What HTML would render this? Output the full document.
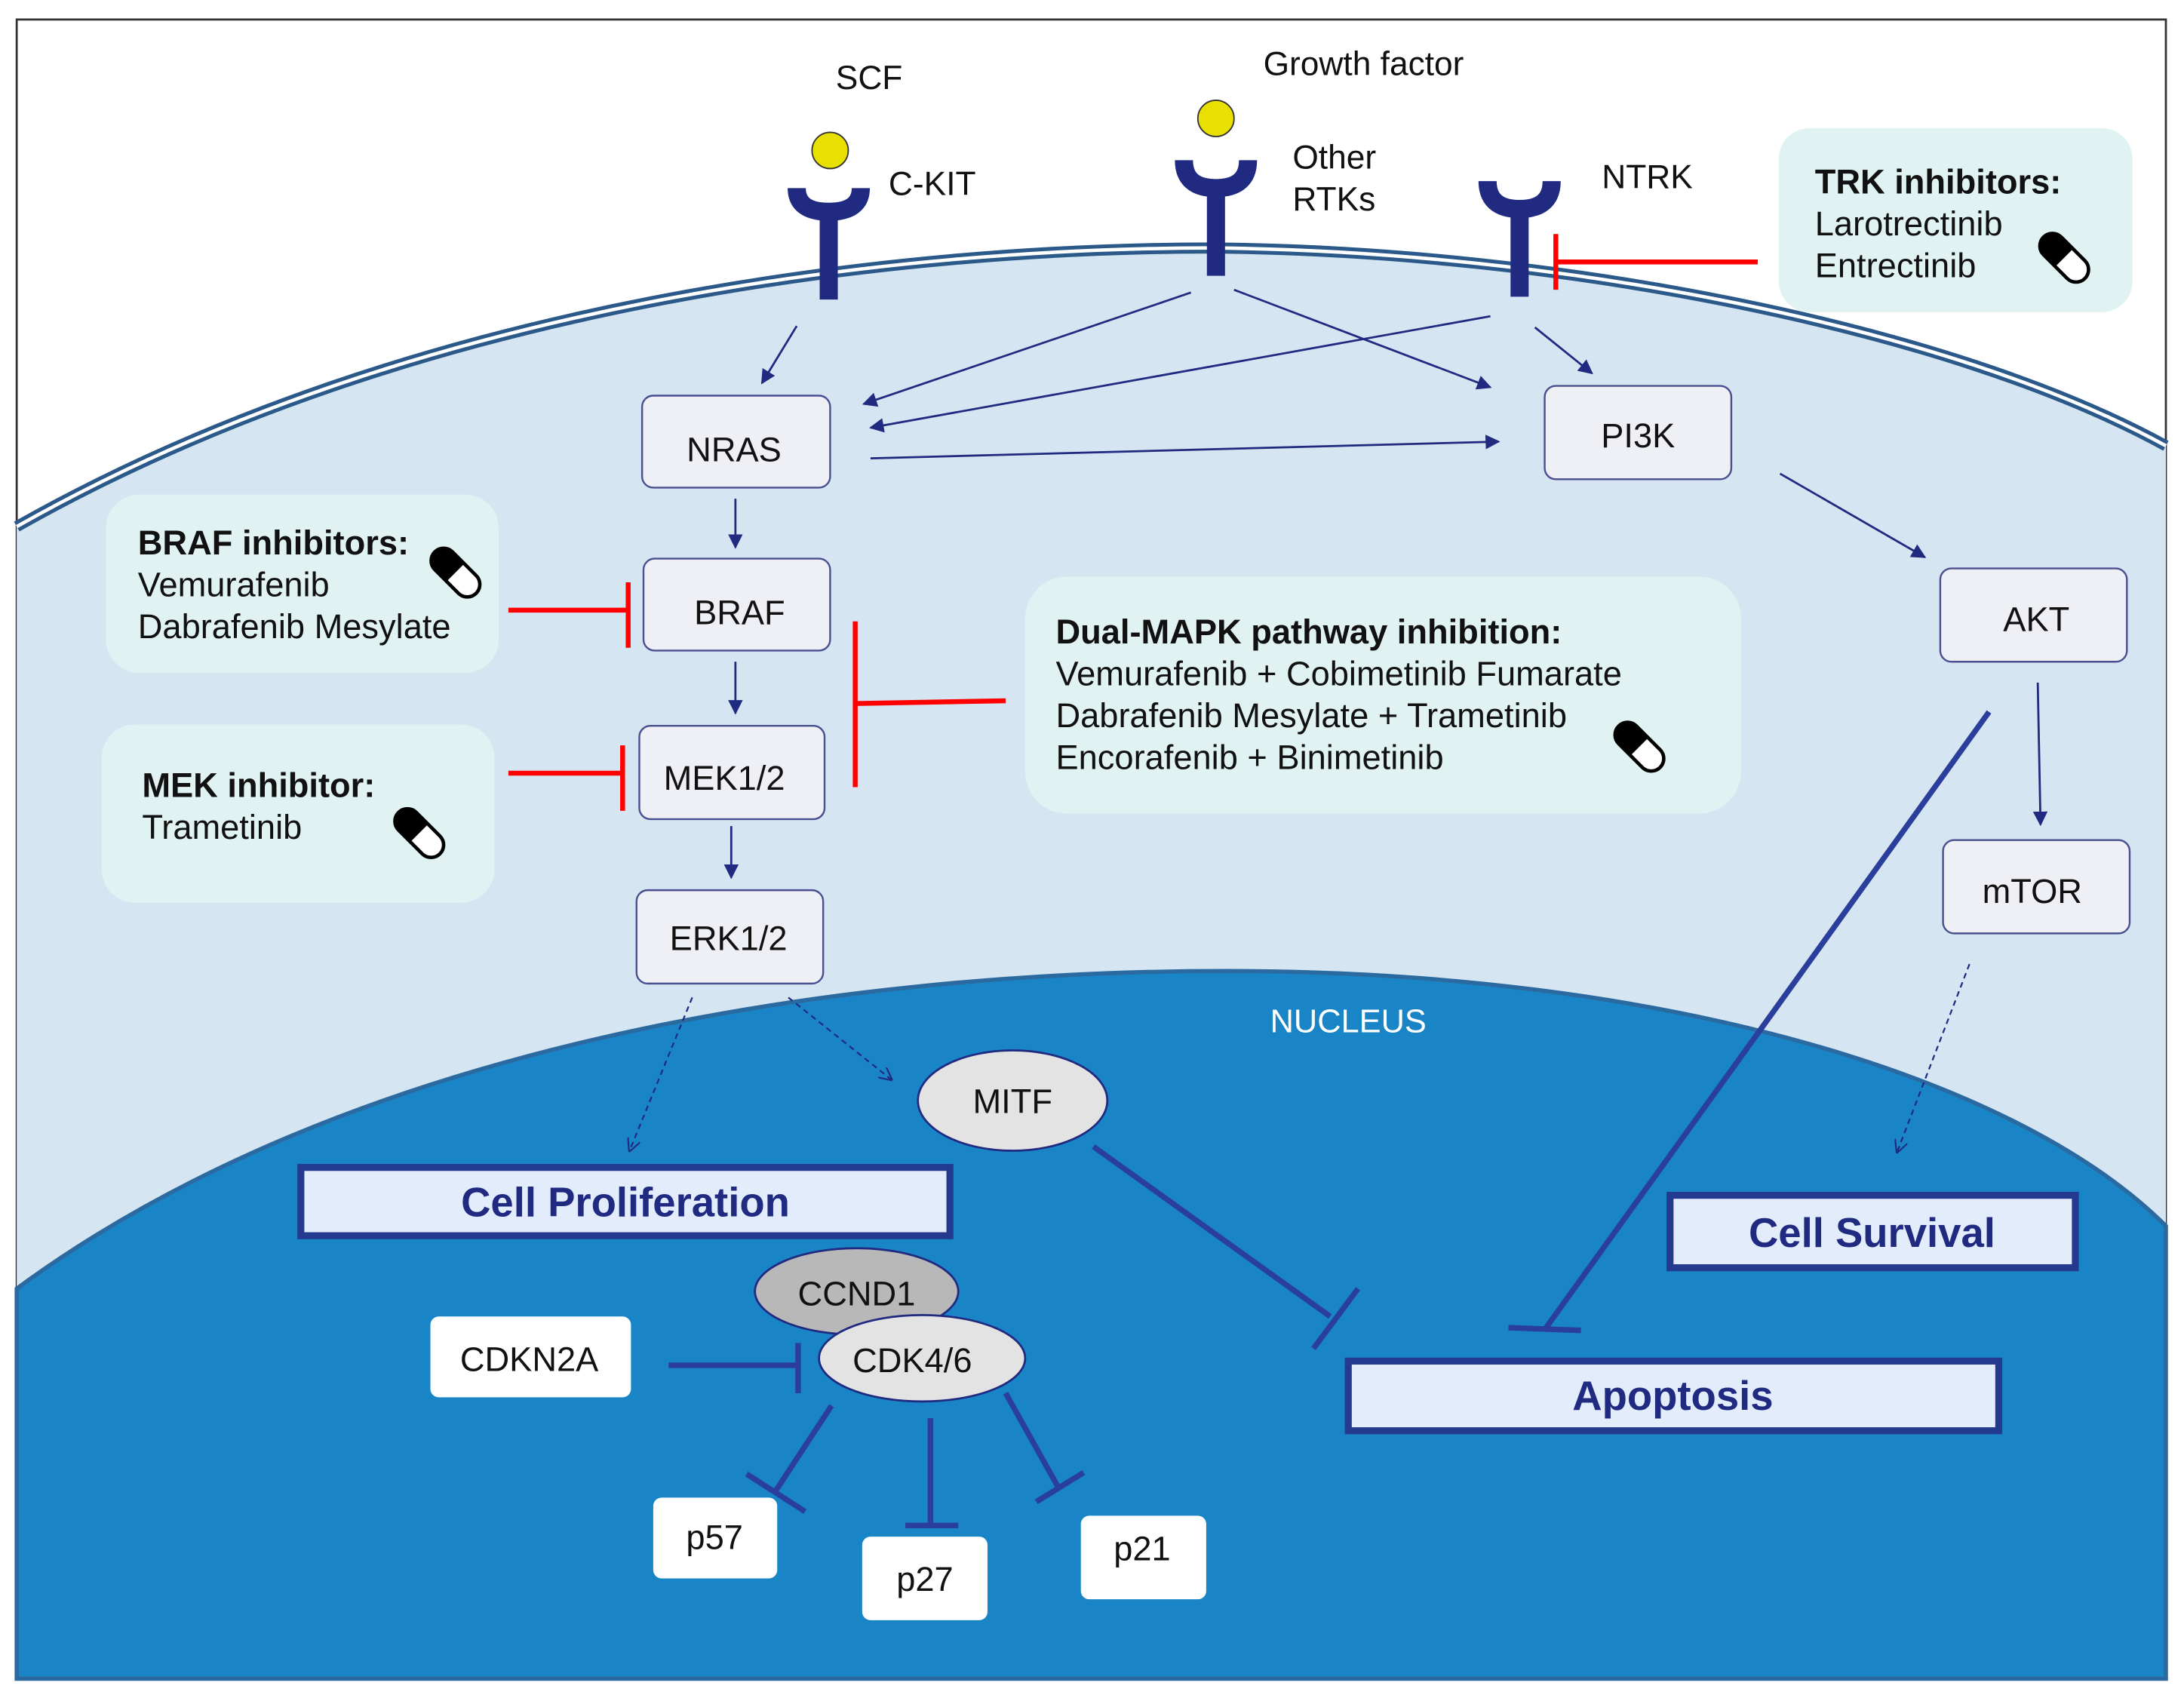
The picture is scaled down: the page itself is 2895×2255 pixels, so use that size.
<!DOCTYPE html>
<html><head><meta charset="utf-8"><style>html,body{margin:0;padding:0;background:#fff}svg{display:block}text{font-family:"Liberation Sans",Arial,sans-serif}</style></head>
<body>
<svg width="2895" height="2255" viewBox="0 0 1568 1221" preserveAspectRatio="none" xmlns="http://www.w3.org/2000/svg">
<defs>
<marker id="a" viewBox="0 0 10 10" refX="9" refY="5" markerWidth="7" markerHeight="7" orient="auto"><path d="M0,0 L10,5 L0,10 Z" fill="#1f2a80"/></marker>
<marker id="o" viewBox="0 0 10 10" refX="9" refY="5" markerWidth="8" markerHeight="8" orient="auto"><path d="M0,0 L10,5 L0,10" fill="none" stroke="#1f2a80" stroke-width="1.2"/></marker>
<g id="pill"><rect x="-9" y="-21" width="18" height="42" rx="9" fill="#fff" stroke="#000" stroke-width="2.5"/><path d="M-9,0 L-9,-12 A9,9 0 0 1 9,-12 L9,0 Z" fill="#000"/></g>
</defs>
<rect x="0" y="0" width="1568" height="1221" fill="#fff"/>
<rect x="12" y="14" width="1543" height="1191" fill="#fff" stroke="#333" stroke-width="1.5"/>
<path d="M12,378 C300,215 650,178 870,178 C1120,180 1400,235 1555,320 L1555,1205 L12,1205 Z" fill="#d6e5f2"/>
<path d="M12,378 C300,215 650,178 870,178 C1120,180 1400,235 1555,320" fill="none" stroke="#2b5a8a" stroke-width="8"/>
<path d="M12,378 C300,215 650,178 870,178 C1120,180 1400,235 1555,320" fill="none" stroke="#fff" stroke-width="2.5"/>
<path d="M12,925 C250,750 600,697 880,697 C1200,697 1450,775 1555,880 L1555,1205 L12,1205 Z" fill="#1a85c6" stroke="#2a6aa0" stroke-width="3"/>
<text x="968" y="741" font-size="23.5" fill="#fff" text-anchor="middle">NUCLEUS</text>
<g fill="none" stroke="#1f2a80" stroke-width="13">
<path d="M572,135 Q572,152 595,152 Q618,152 618,135"/><line x1="595" y1="152" x2="595" y2="215"/>
<path d="M850,115 Q850,135 873,135 Q896,135 896,115"/><line x1="873" y1="135" x2="873" y2="198"/>
<path d="M1068,130 Q1068,150 1091,150 Q1114,150 1114,130"/><line x1="1091" y1="150" x2="1091" y2="213"/>
</g>
<circle cx="596" cy="108" r="13" fill="#e8e000" stroke="#333" stroke-width="1"/>
<circle cx="873" cy="85" r="13" fill="#e8e000" stroke="#333" stroke-width="1"/>
<g font-size="24" fill="#111">
<text x="600" y="64">SCF</text><text x="638" y="140">C-KIT</text>
<text x="907" y="54">Growth factor</text><text x="928" y="121">Other</text><text x="928" y="151">RTKs</text>
<text x="1150" y="135">NTRK</text>
</g>
<rect x="1277" y="92" width="254" height="132" rx="22" fill="#e0f2f2"/>
<g font-size="24.5" fill="#111"><text x="1303" y="139" font-weight="bold">TRK inhibitors:</text><text x="1303" y="169">Larotrectinib</text><text x="1303" y="199">Entrectinib</text></g>
<use href="#pill" transform="translate(1482,185) rotate(-45)"/>
<g stroke="#f00" stroke-width="3.5"><line x1="1262" y1="188" x2="1117" y2="188"/><line x1="1117" y1="168" x2="1117" y2="208"/></g>
<g stroke="#1f2a80" stroke-width="1.5" marker-end="url(#a)">
<line x1="572" y1="234" x2="547" y2="275"/>
<line x1="855" y1="210" x2="620" y2="290"/>
<line x1="886" y1="208" x2="1070" y2="278"/>
<line x1="1070" y1="227" x2="625" y2="307"/>
<line x1="1102" y1="235" x2="1143" y2="268"/>
<line x1="625" y1="329" x2="1076" y2="317"/>
<line x1="1278" y1="340" x2="1382" y2="400"/>
<line x1="528" y1="358" x2="528" y2="393"/>
<line x1="528" y1="475" x2="528" y2="512"/>
<line x1="525" y1="593" x2="525" y2="630"/>
<line x1="1463" y1="490" x2="1465" y2="592"/>
</g>
<g stroke="#1f2a80" stroke-width="1.2" stroke-dasharray="4,3" marker-end="url(#o)">
<line x1="497" y1="716" x2="452" y2="826"/>
<line x1="566" y1="716" x2="640" y2="775"/>
<line x1="1414" y1="692" x2="1362" y2="827"/>
</g>
<g fill="#eef0f6" stroke="#4a4f90" stroke-width="1.3">
<rect x="461" y="284" width="135" height="66" rx="8"/>
<rect x="462" y="401" width="134" height="66" rx="8"/>
<rect x="459" y="521" width="133" height="67" rx="8"/>
<rect x="457" y="639" width="134" height="67" rx="8"/>
<rect x="1109" y="277" width="134" height="67" rx="8"/>
<rect x="1393" y="408" width="134" height="67" rx="8"/>
<rect x="1395" y="603" width="134" height="67" rx="8"/>
</g>
<g font-size="24.5" fill="#111" text-anchor="middle">
<text x="527" y="331">NRAS</text><text x="531" y="448">BRAF</text><text x="520" y="567">MEK1/2</text><text x="523" y="682">ERK1/2</text>
<text x="1176" y="321">PI3K</text><text x="1462" y="453">AKT</text><text x="1459" y="648">mTOR</text>
</g>
<rect x="76" y="355" width="282" height="128" rx="24" fill="#e0f2f2"/>
<g font-size="24.5" fill="#111"><text x="99" y="398" font-weight="bold">BRAF inhibitors:</text><text x="99" y="428">Vemurafenib</text><text x="99" y="458">Dabrafenib Mesylate</text></g>
<use href="#pill" transform="translate(327,411) rotate(-45)"/>
<rect x="73" y="520" width="282" height="128" rx="24" fill="#e0f2f2"/>
<g font-size="24.5" fill="#111"><text x="102" y="572" font-weight="bold">MEK inhibitor:</text><text x="102" y="602">Trametinib</text></g>
<use href="#pill" transform="translate(301,598) rotate(-45)"/>
<rect x="736" y="414" width="514" height="170" rx="30" fill="#e0f2f2"/>
<g font-size="24.5" fill="#111"><text x="758" y="462" font-weight="bold">Dual-MAPK pathway inhibition:</text><text x="758" y="492">Vemurafenib + Cobimetinib Fumarate</text><text x="758" y="522">Dabrafenib Mesylate + Trametinib</text><text x="758" y="552">Encorafenib + Binimetinib</text></g>
<use href="#pill" transform="translate(1177,536) rotate(-45)"/>
<g stroke="#f00" stroke-width="3.5">
<line x1="365" y1="438" x2="451" y2="438"/><line x1="451" y1="418" x2="451" y2="465"/>
<line x1="365" y1="555" x2="447" y2="555"/><line x1="447" y1="535" x2="447" y2="582"/>
<line x1="722" y1="503" x2="614" y2="505"/><line x1="614" y1="446" x2="614" y2="565"/>
</g>
<g fill="#e2ecfb" stroke="#233a8f" stroke-width="5">
<rect x="216" y="838" width="466" height="49"/>
<rect x="1199" y="858" width="291" height="52"/>
<rect x="968" y="977" width="467" height="50"/>
</g>
<g font-size="29.5" font-weight="bold" fill="#1f2a80" text-anchor="middle">
<text x="449" y="873">Cell Proliferation</text><text x="1344" y="895">Cell Survival</text><text x="1201" y="1012">Apoptosis</text>
</g>
<g stroke="#2a3e9c" stroke-width="4">
<line x1="1428" y1="511" x2="1110" y2="953"/><line x1="1083" y1="953" x2="1135" y2="955"/>
<line x1="785" y1="823" x2="955" y2="945"/><line x1="943" y1="968" x2="975" y2="925"/>
<line x1="480" y1="980" x2="573" y2="980"/><line x1="573" y1="964" x2="573" y2="1000"/>
<line x1="597" y1="1009" x2="557" y2="1070"/><line x1="536" y1="1058" x2="578" y2="1085"/>
<line x1="668" y1="1018" x2="668" y2="1095"/><line x1="650" y1="1095" x2="688" y2="1095"/>
<line x1="722" y1="1000" x2="760" y2="1068"/><line x1="744" y1="1078" x2="778" y2="1057"/>
</g>
<ellipse cx="727" cy="790" rx="68" ry="36" fill="#e3e3e3" stroke="#1f2a80" stroke-width="1.5"/>
<text x="727" y="799" font-size="24.5" text-anchor="middle" fill="#111">MITF</text>
<ellipse cx="615" cy="927" rx="73" ry="31" fill="#b8b8b8" stroke="#1f2a80" stroke-width="1.5"/>
<text x="615" y="937" font-size="24.5" text-anchor="middle" fill="#111">CCND1</text>
<ellipse cx="662" cy="975" rx="74" ry="31" fill="#e3e3e3" stroke="#1f2a80" stroke-width="1.5"/>
<text x="655" y="985" font-size="24.5" text-anchor="middle" fill="#111">CDK4/6</text>
<g fill="#fff">
<rect x="309" y="945" width="144" height="58" rx="6"/>
<rect x="469" y="1075" width="89" height="58" rx="6"/>
<rect x="619" y="1103" width="90" height="60" rx="6"/>
<rect x="776" y="1088" width="90" height="60" rx="6"/>
</g>
<g font-size="24.5" fill="#111" text-anchor="middle">
<text x="380" y="984">CDKN2A</text><text x="513" y="1112">p57</text><text x="664" y="1142">p27</text><text x="820" y="1120">p21</text>
</g>
</svg>
</body></html>
